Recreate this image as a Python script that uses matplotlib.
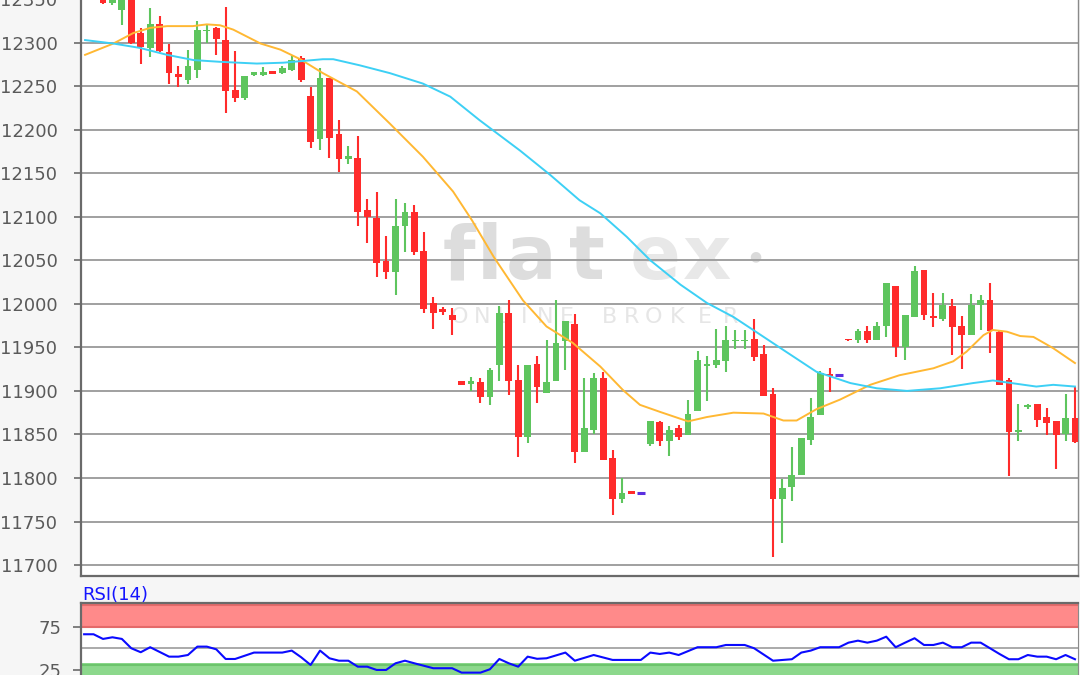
import numpy as np
import matplotlib
matplotlib.use("Agg")
import matplotlib.pyplot as plt

# candles, one per slot (first two sit above the visible range)
opens = [12375, 12384, 12362, 12346, 12338, 12362, 12311, 12294, 12322, 12289,
         12264, 12257, 12269, 12313, 12317, 12303, 12246, 12236, 12263, 12263,
         12267, 12265, 12269, 12282, 12239, 12189, 12259, 12195, 12166, 12167,
         12108, 12099, 12049, 12037, 12089, 12105, 12061, 12001, 11994, 11987,
         11911, 11908, 11910, 11893, 11930, 11990, 11912, 11847, 11931, 11898,
         11911, 11957, 11977, 11830, 11855, 11915, 11823, 11776, 11785, 11783,
         11839, 11864, 11843, 11857, 11849, 11877, 11929, 11930, 11934, 11957,
         11957, 11960, 11942, 11896, 11776, 11790, 11803, 11844, 11872, 11919,
         11918, 11960, 11959, 11969, 11959, 11975, 12020, 11950, 11985, 12039,
         11986, 11983, 11998, 11975, 11964, 11999, 12004, 11968, 11912, 11853,
         11881, 11885, 11870, 11866, 11851, 11869]
highs = [12392, 12388, 12366, 12355, 12368, 12370, 12317, 12340, 12331, 12299,
         12273, 12292, 12325, 12320, 12318, 12341, 12290, 12262, 12266, 12272,
         12267, 12273, 12286, 12285, 12249, 12271, 12259, 12211, 12181, 12193,
         12121, 12128, 12078, 12121, 12116, 12113, 12082, 12008, 11996, 11995,
         11911, 11916, 11915, 11926, 11998, 12004, 11930, 11930, 11940, 11958,
         12004, 11980, 11988, 11915, 11921, 11922, 11832, 11800, 11785, 11783,
         11866, 11866, 11860, 11861, 11890, 11946, 11940, 11971, 11975, 11970,
         11970, 11983, 11953, 11903, 11799, 11836, 11846, 11892, 11923, 11926,
         11918, 11960, 11971, 11975, 11979, 12024, 12020, 11987, 12044, 12039,
         12013, 12013, 12006, 11986, 12011, 12010, 12024, 11969, 11915, 11885,
         11885, 11885, 11880, 11866, 11896, 11905]
lows = [12368, 12356, 12344, 12343, 12320, 12298, 12276, 12283, 12289, 12253,
        12249, 12253, 12259, 12300, 12286, 12219, 12232, 12234, 12262, 12262,
        12264, 12264, 12267, 12255, 12179, 12177, 12167, 12152, 12161, 12089,
        12070, 12031, 12028, 12010, 12059, 12056, 11989, 11971, 11987, 11964,
        11907, 11900, 11886, 11884, 11911, 11895, 11824, 11840, 11886, 11898,
        11911, 11924, 11817, 11830, 11851, 11821, 11757, 11771, 11782, 11783,
        11837, 11837, 11825, 11844, 11849, 11877, 11888, 11926, 11922, 11948,
        11948, 11934, 11894, 11709, 11725, 11773, 11803, 11838, 11872, 11899,
        11918, 11957, 11955, 11955, 11959, 11962, 11939, 11935, 11985, 11982,
        11973, 11980, 11941, 11925, 11964, 11970, 11943, 11907, 11802, 11842,
        11879, 11858, 11849, 11810, 11842, 11840]
closes = [12384, 12362, 12346, 12351, 12358, 12300, 12295, 12322, 12290, 12265,
          12260, 12273, 12315, 12315, 12304, 12245, 12236, 12262, 12266, 12266,
          12264, 12271, 12280, 12257, 12186, 12259, 12191, 12166, 12170, 12106,
          12100, 12047, 12037, 12089, 12105, 12060, 11994, 11989, 11991, 11981,
          11907, 11911, 11893, 11924, 11990, 11911, 11847, 11930, 11904, 11910,
          11955, 11980, 11830, 11857, 11915, 11821, 11776, 11783, 11782, 11783,
          11866, 11842, 11855, 11847, 11873, 11936, 11931, 11936, 11959, 11959,
          11959, 11939, 11894, 11776, 11788, 11803, 11846, 11870, 11920, 11917,
          11918, 11958, 11969, 11958, 11974, 12024, 11950, 11987, 12038, 11987,
          11984, 11999, 11973, 11964, 11999, 12004, 11969, 11907, 11853, 11855,
          11884, 11867, 11863, 11849, 11869, 11841]

# moving averages (slot, price)
ma_fast_x = [0.1, 3.1, 5.2, 7.0, 8.8, 11.5, 13.0, 14.4, 15.8, 18.7, 20.8, 22.9,
             25.3, 28.9, 32.4, 35.9, 39.1, 41.1, 43.4, 46.5, 49.0, 51.8, 54.7,
             57.1, 58.9, 61.0, 64.0, 66.0, 68.8, 72.0, 74.1, 75.5, 77.6, 80.1,
             83.3, 86.4, 90.0, 92.1, 93.5, 95.3, 96.3, 97.8, 99.2, 100.6, 102.7, 105.0]
ma_fast_y = [12286, 12299, 12311, 12317, 12319, 12319, 12321, 12320, 12315, 12299,
             12292, 12281, 12265, 12244, 12207, 12169, 12129, 12096, 12054, 12004,
             11974, 11955, 11928, 11901, 11884, 11876, 11865, 11870, 11875, 11874,
             11866, 11866, 11879, 11890, 11907, 11918, 11926, 11934, 11945, 11964,
             11970, 11968, 11963, 11962, 11949, 11932]
ma_slow_x = [0.1, 3.1, 5.9, 8.8, 11.6, 14.4, 18.3, 21.1, 25.3, 26.4, 29.2, 32.4,
             35.9, 38.8, 41.9, 46.2, 49.4, 52.5, 54.7, 57.5, 60.0, 63.2, 66.0,
             68.8, 70.9, 74.1, 77.6, 81.2, 84.0, 87.2, 90.7, 94.2, 96.3, 100.9,
             102.7, 105.0]
ma_slow_y = [12303, 12299, 12294, 12286, 12280, 12278, 12276, 12277, 12281, 12281,
             12274, 12265, 12253, 12238, 12211, 12176, 12148, 12119, 12104, 12077,
             12050, 12022, 12001, 11985, 11970, 11947, 11922, 11909, 11903, 11900,
             11903, 11909, 11912, 11905, 11907, 11905]

# RSI(14)
rsi_x = [0, 1, 2, 3, 4, 5, 6, 7, 9, 10, 11, 12, 13, 14, 15, 16, 18, 21, 22, 23,
         24, 25, 26, 27, 28, 29, 30, 31, 32, 33, 34, 35, 37, 39, 40, 42, 43, 44,
         45, 46, 47, 48, 49, 51, 52, 54, 56, 59, 60, 61, 62, 63, 65, 67, 68, 70,
         71, 73, 75, 76, 77, 78, 80, 81, 82, 83, 84, 85, 86, 87, 88, 89, 90, 91,
         92, 93, 94, 95, 96, 97, 98, 99, 100, 101, 102, 103, 104, 105]
rsi_y = [66.2, 66.2, 60.8, 62.7, 60.8, 50.0, 45.4, 51.2, 40.3, 40.3, 42.2, 51.9,
         51.9, 48.8, 37.6, 37.6, 45.0, 45.0, 47.3, 39.6, 30.7, 47.3, 38.4, 35.6,
         35.6, 28.7, 28.7, 24.9, 24.9, 32.6, 35.6, 32.6, 26.9, 26.9, 21.8, 21.8,
         25.7, 37.6, 32.6, 28.7, 40.3, 37.8, 38.4, 45.0, 35.6, 42.2, 36.5, 36.5,
         45.0, 43.4, 45.0, 42.2, 51.2, 51.2, 53.8, 53.8, 50.0, 35.6, 37.3, 45.0,
         47.3, 51.2, 51.2, 56.5, 58.8, 56.5, 58.8, 63.4, 51.2, 56.5, 61.6, 53.8,
         53.8, 56.5, 51.2, 51.2, 56.5, 56.5, 50.0, 43.4, 37.3, 37.3, 42.2, 40.3,
         40.3, 37.3, 42.2, 37.3]

price_ticks = list(range(11700, 12400, 50))

UP = '#5ec55e'
DOWN = '#ff2b2b'
DOJI = '#5b2fe0'
GRID = '#a0a0a0'
SPINE = '#6a6a6a'
LABEL = '#5a5a5a'

W, H = 1080, 675
fig = plt.figure(figsize=(W / 100, H / 100), dpi=100, facecolor='#f6f6f6')

# main price panel (top runs past the picture, like the cropped original)
ax = fig.add_axes([81 / W, 1 - 576 / H, (1078 - 81) / W, 0.9191])
ax.set_facecolor('white')
ax.set_xlim(-0.33, 105.32)
ax.set_ylim(11687.4, 12400)

# watermark, under grid and candles
ft = fig.transFigure
for ch, px, col in zip('flatex', [459, 490, 531, 587, 655, 707],
                       ['#dddddd'] * 4 + ['#e8e8e8'] * 2):
    ax.text(px / W, 1 - 279 / H, ch, transform=ft, fontsize=54, fontweight='bold',
            color=col, ha='center', va='baseline', zorder=0.5)
ax.text(755 / W, 1 - 256 / H, '\u25CF', transform=ft, fontsize=10,
        color='#dadada', ha='center', va='center', zorder=0.5)
for ch, px in zip('ONLINEBROKER',
                  [460, 482, 503, 524, 545, 567, 610, 632, 654, 677, 705, 731]):
    ax.text(px / W, 1 - 317 / H, ch, transform=ft, fontsize=16,
            color='#e6e6e6', ha='center', va='center', zorder=0.5)

for p in price_ticks:
    ax.axhline(p, color=GRID, lw=1.4, zorder=1)

idx = np.arange(len(opens))
o = np.array(opens, float)
c = np.array(closes, float)
cols = [DOJI if a == b else (UP if b > a else DOWN) for a, b in zip(o, c)]
ax.vlines(idx, lows, highs, colors=cols, lw=1.5, zorder=3)
body = np.where(o == c, 0, c - o)
ax.bar(idx, body, bottom=o, width=0.72, color=cols, edgecolor='none', zorder=4)
doji = o == c
ax.hlines(o[doji], idx[doji] - 0.4, idx[doji] + 0.45, colors=DOJI, lw=2.2, zorder=4)

ax.plot(ma_fast_x, ma_fast_y, color='#ffb833', lw=1.4, zorder=5)
ax.plot(ma_slow_x, ma_slow_y, color='#3dd0f5', lw=1.4, zorder=5)

ax.set_yticks(price_ticks)
ax.set_xticks([])
ax.tick_params(axis='y', length=5, width=1.2, color=SPINE, pad=12,
               labelsize=13, labelcolor=LABEL)
for s in ['left', 'bottom']:
    ax.spines[s].set_color(SPINE)
    ax.spines[s].set_linewidth(1.6)
ax.spines['right'].set_color('#8a8a8a')
ax.spines['right'].set_linewidth(1.0)
ax.spines['top'].set_visible(False)

# RSI panel
rx = fig.add_axes([81 / W, -0.0244, (1078 - 81) / W, 0.1311])
rx.set_facecolor('white')
rx.set_xlim(-0.33, 105.32)
rx.set_ylim(0, 102.4)
rx.axhspan(73.5, 102.4, color='#ff8a8a', lw=0, zorder=1)
rx.axhline(100, color='#e46a6a', lw=1.5, zorder=1.5)
rx.axhline(74.5, color='#e46a6a', lw=1.5, zorder=1.5)
rx.axhspan(0, 32.5, color='#8cd88c', lw=0, zorder=1)
rx.axhline(31, color='#6cc46c', lw=1.5, zorder=1.5)
rx.axhline(50, color='#aaaaaa', lw=1.4, zorder=1.5)
rx.plot(rsi_x, rsi_y, color='#0a0aff', lw=1.5, zorder=3)
rx.set_yticks([25, 75])
rx.set_xticks([])
rx.tick_params(axis='y', length=6, width=1.2, color=SPINE, pad=8,
               labelsize=13, labelcolor=LABEL)
for s in ['left', 'top']:
    rx.spines[s].set_color(SPINE)
    rx.spines[s].set_linewidth(1.6)
rx.spines['right'].set_color('#8a8a8a')
rx.spines['bottom'].set_visible(False)

fig.text(82 / W, 1 - 600 / H, 'RSI(14)', fontsize=13, color='#1414ff',
         ha='left', va='baseline')

fig.savefig('out.png', dpi=100, facecolor=fig.get_facecolor())
